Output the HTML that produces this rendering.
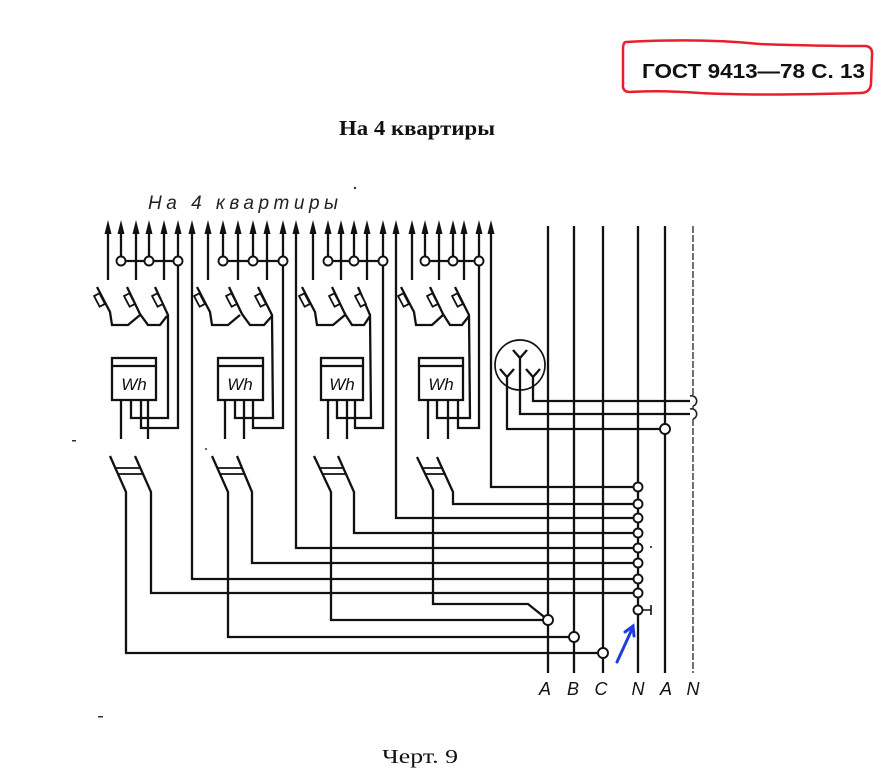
<!DOCTYPE html>
<html>
<head>
<meta charset="utf-8">
<style>
html,body{margin:0;padding:0;background:#fff;}
svg{display:block;}
</style>
</head>
<body>
<svg width="896" height="780" viewBox="0 0 896 780" xmlns="http://www.w3.org/2000/svg">
<rect width="896" height="780" fill="#fff"/>

<!-- Red box header -->
<path d="M626,42 Q700,38 760,44 Q820,46 866,46 Q873,47 872,56 L871,84 Q870,93 860,93 Q760,96 700,93 Q660,90 630,92 Q622,92 623,84 L623,50 Q623,42 626,42 Z" fill="none" stroke="#e8202e" stroke-width="2.5"/>
<text x="642" y="78" font-family="Liberation Sans, sans-serif" font-weight="bold" font-size="20" textLength="223" lengthAdjust="spacingAndGlyphs" fill="#111">ГОСТ 9413—78 С. 13</text>

<!-- Title -->
<text x="339" y="135" font-family="Liberation Serif, serif" font-weight="bold" font-size="21" textLength="156" lengthAdjust="spacingAndGlyphs" fill="#111">На 4 квартиры</text>

<!-- Handwritten label -->
<text x="148" y="209" font-family="Liberation Sans, sans-serif" font-style="italic" font-size="19" textLength="190" lengthAdjust="spacing" fill="#222">На  4 квартиры</text>

<!-- Caption -->
<text x="382" y="763" font-family="Liberation Serif, serif" font-size="20" textLength="76" lengthAdjust="spacingAndGlyphs" fill="#111">Черт. 9</text>

<g stroke="#111" stroke-width="2.3" fill="none" stroke-linejoin="miter">
<!-- ===== Bus lines ===== -->
<path d="M548,226 V673 M574,226 V673 M603,226 V673 M638,226 V673 M665,226 V673"/>

<!-- ===== Group 1 ===== -->
<path d="M108,226 V280 M136,226 V280 M164,226 V280 M121,226 V261 M149,226 V261 M178,226 V428 L141,428 V400 M121,261 H178"/>
<path d="M192,226 V579 H638"/>
<path d="M97,287 L110,312 L112,325 L128,325 L140,315"/>
<path d="M127,287 L140,314 L148,325 L160,325 L167,316"/>
<path d="M155,287 L168,315 L168,418 L131,418 V400"/>
<rect x="112" y="358" width="44" height="42"/>
<path d="M112,366 H156"/>
<path d="M121,400 V439 M148,400 V439"/>
<path d="M110,456 L126,492 V653 H603"/>
<path d="M135,456 L151,492 V593 H638"/>
<path d="M115,468 H140 M118,474 H143" stroke-width="1.8"/>

<!-- ===== Group 2 ===== -->
<path d="M208,226 V280 M238,226 V280 M267,226 V280 M223,226 V261 M253,226 V261 M283,226 V428 L253,428 V400 M223,261 H283"/>
<path d="M296,226 V548 H638"/>
<path d="M197,287 L210,312 L212,325 L228,325 L240,315"/>
<path d="M229,287 L242,314 L250,325 L264,325 L272,316"/>
<path d="M258,287 L272,315 L273,418 L235,418 V400"/>
<rect x="218" y="358" width="45" height="42"/>
<path d="M218,366 H263"/>
<path d="M225,400 V439 M244,400 V439"/>
<path d="M212,456 L228,492 V637 H574"/>
<path d="M237,456 L252,492 V563 H638"/>
<path d="M217,468 H242 M220,474 H245" stroke-width="1.8"/>

<!-- ===== Group 3 ===== -->
<path d="M313,226 V280 M341,226 V280 M367,226 V280 M328,226 V261 M354,226 V261 M383,226 V428 L355,428 V400 M328,261 H383"/>
<path d="M396,226 V518 H638"/>
<path d="M302,287 L315,312 L317,325 L333,325 L345,315"/>
<path d="M332,287 L345,314 L352,325 L364,325 L370,316"/>
<path d="M358,287 L370,315 L371,418 L337,418 V400"/>
<rect x="321" y="358" width="42" height="42"/>
<path d="M321,366 H363"/>
<path d="M328,400 V439 M347,400 V439"/>
<path d="M314,456 L331,492 V620 H548"/>
<path d="M338,456 L354,492 V533 H638"/>
<path d="M319,468 H343 M322,474 H346" stroke-width="1.8"/>

<!-- ===== Group 4 ===== -->
<path d="M412,226 V280 M439,226 V280 M464,226 V280 M425,226 V261 M453,226 V261 M479,226 V428 L458,428 V400 M425,261 H479"/>
<path d="M491,226 V487 H638"/>
<path d="M401,287 L414,312 L416,325 L432,325 L443,315"/>
<path d="M430,287 L443,314 L450,325 L462,325 L469,316"/>
<path d="M455,287 L469,315 L470,418 L437,418 V400"/>
<rect x="419" y="358" width="44" height="42"/>
<path d="M419,366 H463"/>
<path d="M428,400 V439 M448,400 V439"/>
<path d="M417,457 L433,490 V604 H528 L548,620"/>
<path d="M437,457 L453,492 V504 H638"/>
<path d="M422,468 H443 M425,474 H446" stroke-width="1.8"/>

<!-- ===== Y circle ===== -->
<circle cx="520" cy="365" r="25" stroke-width="1.7"/>
<path d="M513,350 L520,358 L527,350 M520,358 V414 H690"/>
<path d="M500,369 L507,377 L514,369 M507,377 V429 H665"/>
<path d="M526,369 L533,377 L540,369 M533,377 V401 H690"/>

<!-- N terminal stub -->
<path d="M642,610 H651 M651,605 V615" stroke-width="1.6"/>
</g>

<!-- N2 line (lighter) -->
<path d="M693,226 V396 M693,406 V409 M693,419 V673" stroke="#333" stroke-width="1.4" stroke-dasharray="7 2" fill="none"/>
<path d="M690,396 A5,5 0 0 1 693,406 M690,409 A5,5 0 0 1 693,419" stroke="#222" stroke-width="1.6" fill="none"/>

<!-- Arrowheads -->
<g fill="#111">
<polygon points="108,220 104.5,234 111.5,234"/><polygon points="121,220 117.5,234 124.5,234"/><polygon points="136,220 132.5,234 139.5,234"/><polygon points="149,220 145.5,234 152.5,234"/><polygon points="164,220 160.5,234 167.5,234"/><polygon points="178,220 174.5,234 181.5,234"/><polygon points="192,220 188.5,234 195.5,234"/>
<polygon points="208,220 204.5,234 211.5,234"/><polygon points="223,220 219.5,234 226.5,234"/><polygon points="238,220 234.5,234 241.5,234"/><polygon points="253,220 249.5,234 256.5,234"/><polygon points="267,220 263.5,234 270.5,234"/><polygon points="283,220 279.5,234 286.5,234"/><polygon points="296,220 292.5,234 299.5,234"/>
<polygon points="313,220 309.5,234 316.5,234"/><polygon points="328,220 324.5,234 331.5,234"/><polygon points="341,220 337.5,234 344.5,234"/><polygon points="354,220 350.5,234 357.5,234"/><polygon points="367,220 363.5,234 370.5,234"/><polygon points="383,220 379.5,234 386.5,234"/><polygon points="396,220 392.5,234 399.5,234"/>
<polygon points="412,220 408.5,234 415.5,234"/><polygon points="425,220 421.5,234 428.5,234"/><polygon points="439,220 435.5,234 442.5,234"/><polygon points="453,220 449.5,234 456.5,234"/><polygon points="464,220 460.5,234 467.5,234"/><polygon points="479,220 475.5,234 482.5,234"/><polygon points="491,220 487.5,234 494.5,234"/>
</g>

<!-- Fuses -->
<g fill="#fff" stroke="#111" stroke-width="1.8">
<rect x="-3" y="-6" width="6" height="12" transform="translate(99.5,300) rotate(-27.5)"/>
<rect x="-3" y="-6" width="6" height="12" transform="translate(129.5,300) rotate(-27.5)"/>
<rect x="-3" y="-6" width="6" height="12" transform="translate(157.5,300) rotate(-27.5)"/>
<rect x="-3" y="-6" width="6" height="12" transform="translate(199.5,300) rotate(-27.5)"/>
<rect x="-3" y="-6" width="6" height="12" transform="translate(231.5,300) rotate(-27.5)"/>
<rect x="-3" y="-6" width="6" height="12" transform="translate(260.5,300) rotate(-27.5)"/>
<rect x="-3" y="-6" width="6" height="12" transform="translate(304.5,300) rotate(-27.5)"/>
<rect x="-3" y="-6" width="6" height="12" transform="translate(334.5,300) rotate(-27.5)"/>
<rect x="-3" y="-6" width="6" height="12" transform="translate(360.5,300) rotate(-27.5)"/>
<rect x="-3" y="-6" width="6" height="12" transform="translate(403.5,300) rotate(-27.5)"/>
<rect x="-3" y="-6" width="6" height="12" transform="translate(432.5,300) rotate(-27.5)"/>
<rect x="-3" y="-6" width="6" height="12" transform="translate(457.5,300) rotate(-27.5)"/>
</g>

<!-- Connection circles -->
<g fill="#fff" stroke="#111" stroke-width="1.9">
<circle cx="121" cy="261" r="4.5"/><circle cx="149" cy="261" r="4.5"/><circle cx="178" cy="261" r="4.5"/>
<circle cx="223" cy="261" r="4.5"/><circle cx="253" cy="261" r="4.5"/><circle cx="283" cy="261" r="4.5"/>
<circle cx="328" cy="261" r="4.5"/><circle cx="354" cy="261" r="4.5"/><circle cx="383" cy="261" r="4.5"/>
<circle cx="425" cy="261" r="4.5"/><circle cx="453" cy="261" r="4.5"/><circle cx="479" cy="261" r="4.5"/>
<circle cx="638" cy="487" r="4.5"/><circle cx="638" cy="504" r="4.5"/><circle cx="638" cy="518" r="4.5"/>
<circle cx="638" cy="533" r="4.5"/><circle cx="638" cy="548" r="4.5"/><circle cx="638" cy="563" r="4.5"/>
<circle cx="638" cy="579" r="4.5"/><circle cx="638" cy="593" r="4.5"/><circle cx="638" cy="610" r="4.5"/>
<circle cx="548" cy="620" r="5"/><circle cx="574" cy="637" r="5"/><circle cx="603" cy="653" r="5"/>
<circle cx="665" cy="429" r="5"/>
</g>

<!-- Meter labels -->
<g font-family="Liberation Sans, sans-serif" font-style="italic" font-size="17" fill="#111" text-anchor="middle">
<text x="134" y="390">Wh</text>
<text x="240" y="390">Wh</text>
<text x="342" y="390">Wh</text>
<text x="441" y="390">Wh</text>
</g>

<!-- Bus labels -->
<g font-family="Liberation Sans, sans-serif" font-style="italic" font-size="18" fill="#111" text-anchor="middle">
<text x="545" y="695">A</text>
<text x="573" y="695">B</text>
<text x="601" y="695">C</text>
<text x="638" y="695">N</text>
<text x="666" y="695">A</text>
<text x="693" y="695">N</text>
</g>

<!-- Blue arrow -->
<g stroke="#1b3fe0" stroke-width="3" fill="none" stroke-linecap="round">
<path d="M617,662 L633,627"/>
<path d="M625,632 L633,626 L634,636"/>
</g>

<!-- specks -->
<g fill="#333">
<circle cx="355" cy="188" r="1.2"/>
<rect x="72" y="440" width="4" height="1.5"/>
<rect x="98" y="716" width="5" height="1.5"/>
<circle cx="651" cy="547" r="1.1"/>
<circle cx="206" cy="449" r="1"/>
</g>
</svg>
</body>
</html>
